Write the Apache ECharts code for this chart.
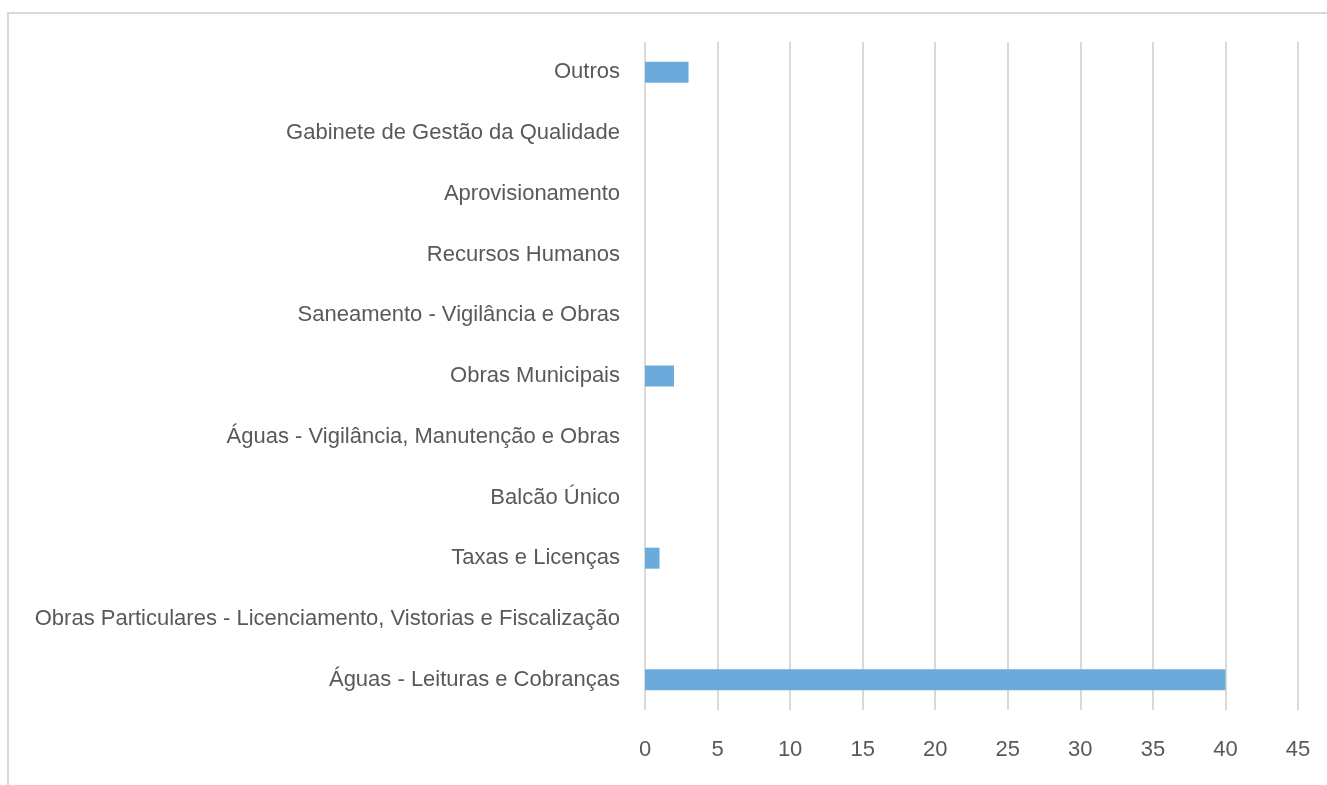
<!DOCTYPE html>
<html>
<head>
<meta charset="utf-8">
<script src="https://cdn.jsdelivr.net/npm/echarts@6/dist/echarts.min.js"></script>
<style>
  html, body { margin: 0; padding: 0; background: #fff; }
  #box { width: 1327px; height: 785px; }
</style>
</head>
<body>
<div id="box"></div>
<script>
// categorias (de baixo para cima)
var categorias = [
    'Águas - Leituras e Cobranças',
    'Obras Particulares - Licenciamento, Vistorias e Fiscalização',
    'Taxas e Licenças',
    'Balcão Único',
    'Águas - Vigilância, Manutenção e Obras',
    'Obras Municipais',
    'Saneamento - Vigilância e Obras',
    'Recursos Humanos',
    'Aprovisionamento',
    'Gabinete de Gestão da Qualidade',
    'Outros'
];
var valores = [40, 0, 1, 0, 0, 2, 0, 0, 0, 0, 3];
var eixoMin = 0, eixoMax = 45, eixoPasso = 5;

var chart = echarts.init(document.getElementById('box'));
var fonte = '"Liberation Sans Narrow", "Arial Narrow", "Liberation Sans", sans-serif';
var option = {
    backgroundColor: '#fff',
    animation: false,
    graphic: [{ // moldura
        type: 'rect',
        shape: { x: 8, y: 13, width: 1400, height: 900 },
        style: { fill: 'none', stroke: '#d9d9d9', lineWidth: 2 },
        silent: true
    }],
    grid: { left: 645, right: 29, top: 42, bottom: 75, containLabel: false },
    xAxis: {
        type: 'value',
        min: eixoMin, max: eixoMax, interval: eixoPasso,
        axisLine: { show: false },
        axisTick: { show: false },
        splitLine: { show: true, lineStyle: { color: '#d9d9d9', width: 2 } },
        axisLabel: { color: '#595959', fontSize: 22, fontFamily: fonte, margin: 29 }
    },
    yAxis: {
        type: 'category',
        data: categorias,
        axisLine: { show: false },
        axisTick: { show: false },
        axisLabel: { color: '#595959', fontSize: 22, fontFamily: fonte, margin: 25, interval: 0, padding: [3, 0, 0, 0] }
    },
    series: [{
        type: 'bar',
        data: valores,
        barWidth: 21,
        itemStyle: { color: '#6babdc' }
    }]
};
chart.setOption(option);
</script>
</body>
</html>
